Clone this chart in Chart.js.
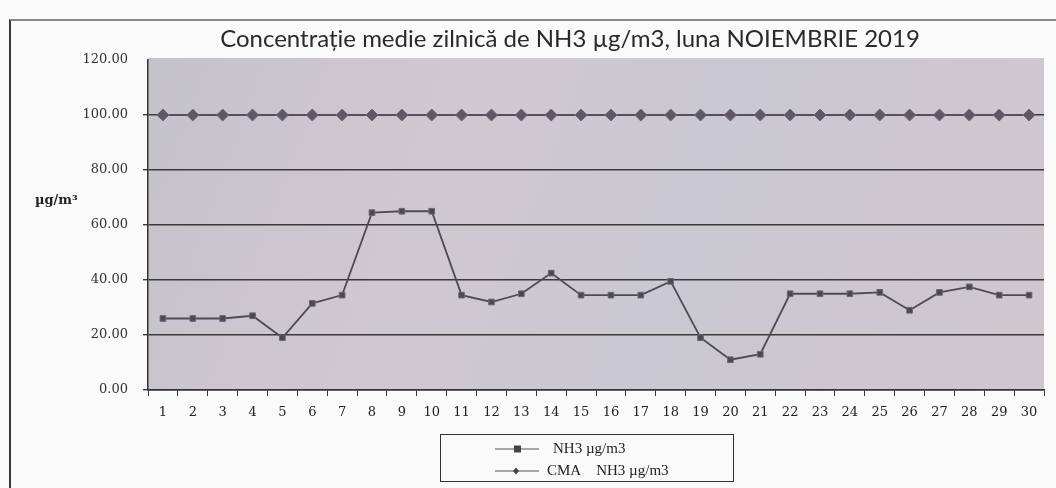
<!DOCTYPE html>
<html>
<head>
<meta charset="utf-8">
<script src="https://cdn.jsdelivr.net/npm/chart.js@4.4.1/dist/chart.umd.min.js"></script>
<style>
  html,body{margin:0;padding:0;background:#fbfafb;}
  #wrap{position:relative;width:1056px;height:488px;overflow:hidden;}
  #frame{position:absolute;left:9px;top:19px;width:1060px;height:480px;border-left:2px solid #3a3a3a;border-top:2px solid #8a8a8a;}
  canvas{position:absolute;left:0;top:0;}
  #title{position:absolute;left:0;width:1140px;top:23px;text-align:center;font-family:Lato,"Open Sans",sans-serif;font-size:24px;color:#2a2a2a;}
  #unit{position:absolute;left:35px;top:192px;font-family:"DejaVu Serif","Liberation Serif",serif;font-weight:bold;font-size:13px;color:#222;}
  #legend{position:absolute;left:440px;top:434px;width:292px;height:46px;border:1.5px solid #333;font-family:"Liberation Serif","DejaVu Serif",serif;font-size:15px;color:#222;}
  .li{position:absolute;left:54px;display:flex;align-items:center;}
</style>
</head>
<body>
<div id="wrap">
  <div id="frame"></div>
  <canvas id="c" width="1056" height="488"></canvas>
  <div id="title">Concentrație medie zilnică de NH3 µg/m3, luna NOIEMBRIE 2019</div>
  <div id="unit">µg/m³</div>
  <div id="legend">
    <div class="li" style="top:5px;"><svg width="44" height="10"><line x1="0" y1="5" x2="44" y2="5" stroke="#555" stroke-width="1.2"/><rect x="19" y="1.5" width="7" height="7" fill="#444"/></svg><span style="margin-left:14px">NH3 µg/m3</span></div>
    <div class="li" style="top:27px;"><svg width="44" height="10"><line x1="0" y1="5" x2="44" y2="5" stroke="#555" stroke-width="1.2"/><polygon points="18,5 21,1.5 24,5 21,8.5" fill="#444"/></svg><span style="margin-left:8px">CMA&nbsp;&nbsp;&nbsp;&nbsp;NH3 µg/m3</span></div>
  </div>
</div>
<script>
const days = ["1","2","3","4","5","6","7","8","9","10","11","12","13","14","15","16","17","18","19","20","21","22","23","24","25","26","27","28","29","30"];
const nh3 = [26,26,26,27,19,31.5,34.5,64.5,65,65,34.5,32,35,42.5,34.5,34.5,34.5,39.5,19,11,13,35,35,35,35.5,29,35.5,37.5,34.5,34.5];
const cma = [100,100,100,100,100,100,100,100,100,100,100,100,100,100,100,100,100,100,100,100,100,100,100,100,100,100,100,100,100,100];
const yTicks = [0,20,40,60,80,100,120];

const bgPlugin = {
  id:'bg',
  beforeDraw(chart){
    const {ctx, chartArea:a} = chart;
    ctx.save();
    const g = ctx.createLinearGradient(a.left, a.top, a.right, a.bottom);
    g.addColorStop(0,'#c4c2cb');
    g.addColorStop(0.3,'#cfc8d1');
    g.addColorStop(0.6,'#cac8d2');
    g.addColorStop(1,'#cfc7ce');
    ctx.fillStyle = g;
    ctx.fillRect(a.left, a.top - 2, a.right-a.left, a.bottom-a.top + 2);
    ctx.restore();
  }
};

new Chart(document.getElementById('c'), {
  type:'line',
  data:{
    labels:days,
    datasets:[
      {label:'NH3 µg/m3', data:nh3, borderColor:'#4e4c52', borderWidth:1.8, pointStyle:'rect', pointRadius:4, pointBackgroundColor:'#4a4850', pointBorderColor:'#6b6870', pointBorderWidth:1, tension:0},
      {label:'CMA NH3 µg/m3', data:cma, borderColor:'#55505a', borderWidth:1.8, pointStyle:'rectRot', pointRadius:6, pointBackgroundColor:'#5e5866', pointBorderColor:'#6e6874', pointBorderWidth:1, tension:0}
    ]
  },
  options:{
    responsive:false,
    animation:false,
    layout:{padding:{left:0,right:12,top:60,bottom:0}},
    plugins:{legend:{display:false}, title:{display:false}, tooltip:{enabled:false}},
    scales:{
      x:{
        offset:true,
        grid:{display:true, drawOnChartArea:false, tickLength:6, color:'#333', offset:true},
        border:{display:true, color:'#333', width:1.5},
        ticks:{padding:9, color:'#222', font:{family:'"DejaVu Serif","Liberation Serif",serif', size:13}, maxRotation:0, autoSkip:false},
        afterFit(s){ s.height = 98; }
      },
      y:{
        min:0, max:120,
        afterBuildTicks(s){ s.ticks = yTicks.map(v=>({value:v})); },
        grid:{color:c => c.tick && c.tick.value === 120 ? 'rgba(0,0,0,0)' : '#3a3a3a', lineWidth:1.4, tickLength:5},
        border:{display:true, color:'#333', width:1.5},
        ticks:{padding:15, color:'#333', font:{family:'"DejaVu Serif","Liberation Serif",serif', size:13}, callback:v=>v.toFixed(2)},
        afterFit(s){ s.width = 148; }
      }
    }
  },
  plugins:[bgPlugin]
});
</script>
</body>
</html>
